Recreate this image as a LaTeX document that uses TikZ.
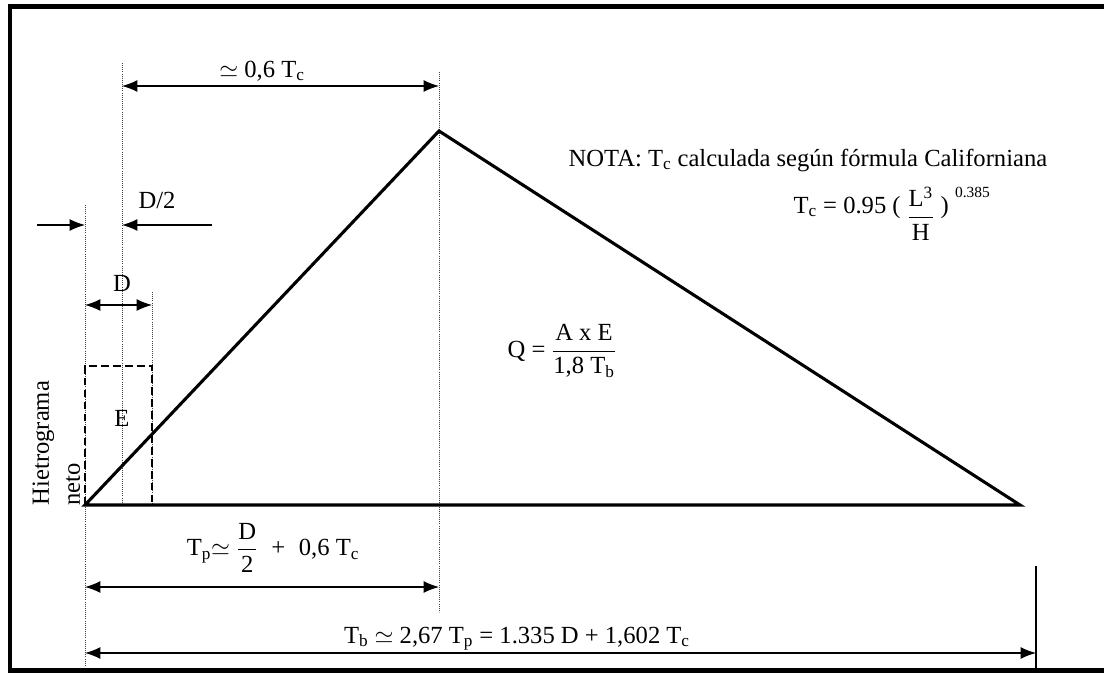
\documentclass[tikz,border=0pt]{standalone}
\usepackage{amsmath}
\usepackage{fontspec}
\setmainfont{Liberation Serif}
\usetikzlibrary{arrows.meta}

\begin{document}
\begin{tikzpicture}[x=0.025cm,y=-0.025cm,
  every node/.style={font=\fontsize{17.5}{22}\selectfont,inner sep=1pt},
  outline/.style={line width=2.2pt,line join=miter},
  guide/.style={densely dotted,line width=0.5pt,black!75},
  dimline/.style={line width=0.8pt,{Latex[length=11pt,width=8.5pt]}-{Latex[length=11pt,width=8.5pt]}},
  dimend/.style={line width=0.8pt,-{Latex[length=11pt,width=8.5pt]}},
  rainbox/.style={line width=1.1pt,dash pattern=on 5.5pt off 3pt}]
  \useasboundingbox (0,0) rectangle (1104,673);
  % Frame
  \draw[line width=3pt] (1104,6.5) -- (10,6.5) -- (10,670.5) -- (1104,670.5);
  % Key points
  \coordinate (A) at (85,505);
  \coordinate (P) at (439,131);
  \coordinate (B) at (1020,505);
  \coordinate (Dh) at (122,505);
  \coordinate (Dr) at (152,505);
  % Guide lines
  \draw[guide] (85,205) -- (85,665);
  \draw[guide] (122,63) -- (Dh);
  \draw[guide] (152,292) -- (Dr);
  \draw[guide] (439,72) -- (439,612);
  % Net hyetograph block
  \draw[rainbox] (A) |- (152,366) -- (Dr);
  \node (e) at (122,418) {E};
  % Hydrograph
  \draw[outline] (A) -- (P) -- (B) -- cycle;
  \node[rotate=90,anchor=north west,align=left] (hiet) at (31,507) {Hietrograma\\neto};
  \node (q) at (562,351) {Q = $\dfrac{\text{A x E}}{\text{1,8 T\textsubscript{b}}}$};
  % Dimensions
  \draw[dimline] (122,86) -- (439,86);
  \node (tlag) at (262,71) {$\simeq$ 0,6 T\textsubscript{c}};
  \draw[dimend] (37,225) -- (85,225);
  \draw[dimend] (212,225) -- (122,225);
  \node (dhalf) at (157,200) {D/2};
  \draw[dimline] (85,305) -- (152,305);
  \node (d) at (122,283) {D};
  \node (tp) at (273,548) {T\textsubscript{p}$\simeq\dfrac{\text{D}}{\text{2}}$\hspace{0.55em}+\hspace{0.55em}0,6 T\textsubscript{c}};
  \draw[dimline] (85,587) -- (439,587);
  \node[anchor=base] (tb) at (517,643) {T\textsubscript{b} $\simeq$ 2,67 T\textsubscript{p} = 1.335 D + 1,602 T\textsubscript{c}};
  \draw[dimline] (85,653) -- (1036,653);
  \draw[line width=0.8pt] (1036,566) -- (1036,671);
  % Note
  \node[anchor=base west] (nota) at (567,166) {NOTA: T\textsubscript{c} calculada según fórmula Californiana};
  \node[anchor=base west] (tcf) at (792,213) {T\textsubscript{c} = 0.95 ( \raisebox{-0.42em}{$\dfrac{\text{L\textsuperscript{3}}}{\text{H}}$} ) \raisebox{11pt}{\fontsize{11}{13}\selectfont 0.385}};
\end{tikzpicture}
\end{document}
